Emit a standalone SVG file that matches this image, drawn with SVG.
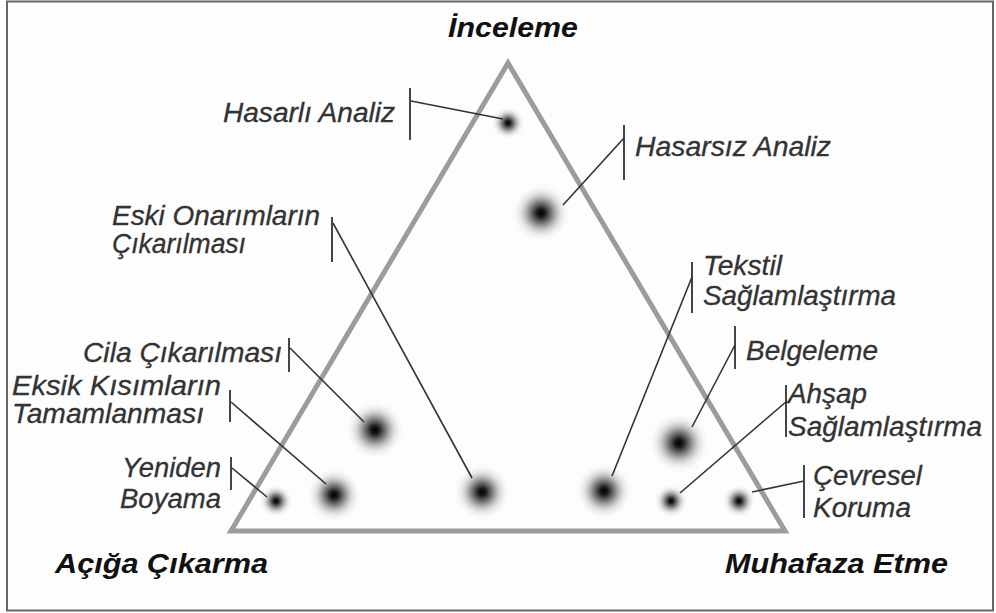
<svg xmlns="http://www.w3.org/2000/svg" width="996" height="613" viewBox="0 0 996 613">
<defs>
<radialGradient id="blob">
<stop offset="0" stop-color="#000" stop-opacity="1"/>
<stop offset="0.14" stop-color="#111" stop-opacity="0.95"/>
<stop offset="0.38" stop-color="#444" stop-opacity="0.65"/>
<stop offset="0.68" stop-color="#999" stop-opacity="0.25"/>
<stop offset="1" stop-color="#fff" stop-opacity="0"/>
</radialGradient>
<style>
.lbl{font-family:"Liberation Sans",Arial,sans-serif;font-style:italic;font-size:27px;fill:#333;stroke:#333;stroke-width:0.3}
.ttl{font-family:"Liberation Sans",Arial,sans-serif;font-style:italic;font-weight:bold;font-size:27px;fill:#111}
.tri{fill:none;stroke:#9c9c9c;stroke-width:5;stroke-linejoin:miter}
.brk{stroke:#444;stroke-width:2;fill:none}
.lead{stroke:#333;stroke-width:1.6;fill:none}
.big{fill:url(#blob)}
</style>
</defs>
<rect x="0" y="0" width="996" height="613" fill="#fdfdfd"/>
<rect x="7" y="1.5" width="986" height="609" fill="#fdfdfd" stroke="#666" stroke-width="2"/>
<polygon class="tri" points="508,63 231,531 785,531"/>

<g id="corner-inceleme"><text class="ttl" x="448" y="37" textLength="130" lengthAdjust="spacingAndGlyphs">İnceleme</text></g>
<g id="corner-aciga"><text class="ttl" x="55" y="573" textLength="213" lengthAdjust="spacingAndGlyphs">Açığa Çıkarma</text></g>
<g id="corner-muhafaza"><text class="ttl" x="725" y="573" textLength="223" lengthAdjust="spacingAndGlyphs">Muhafaza Etme</text></g>

<g id="hasarli-analiz">
<circle class="big" cx="508" cy="123" r="17"/>
<line class="brk" x1="410" y1="88" x2="410" y2="140"/>
<text class="lbl" x="223" y="122" textLength="172" lengthAdjust="spacingAndGlyphs">Hasarlı Analiz</text>
</g>
<g id="hasarsiz-analiz">
<circle class="big" cx="541" cy="213" r="30"/>
<line class="brk" x1="624" y1="125" x2="624" y2="180"/>
<text class="lbl" x="635" y="156" textLength="196" lengthAdjust="spacingAndGlyphs">Hasarsız Analiz</text>
</g>
<g id="eski-onarimlar">
<circle class="big" cx="482" cy="492" r="29"/>
<line class="brk" x1="332" y1="217" x2="332" y2="262"/>
<text class="lbl" x="112" y="225" textLength="208" lengthAdjust="spacingAndGlyphs">Eski Onarımların</text>
<text class="lbl" x="112" y="253" textLength="134" lengthAdjust="spacingAndGlyphs">Çıkarılması</text>
</g>
<g id="cila">
<circle class="big" cx="375" cy="430" r="30"/>
<line class="brk" x1="289" y1="338" x2="289" y2="372"/>
<text class="lbl" x="83" y="362" textLength="199" lengthAdjust="spacingAndGlyphs">Cila Çıkarılması</text>
</g>
<g id="eksik-kisimlar">
<circle class="big" cx="334" cy="495" r="28"/>
<line class="brk" x1="230" y1="390" x2="230" y2="422"/>
<text class="lbl" x="12" y="395" textLength="209" lengthAdjust="spacingAndGlyphs">Eksik Kısımların</text>
<text class="lbl" x="12" y="423" textLength="192" lengthAdjust="spacingAndGlyphs">Tamamlanması</text>
</g>
<g id="yeniden-boyama">
<circle class="big" cx="276" cy="501" r="17"/>
<line class="brk" x1="231" y1="457" x2="231" y2="490"/>
<text class="lbl" x="122" y="477" textLength="99" lengthAdjust="spacingAndGlyphs">Yeniden</text>
<text class="lbl" x="120" y="508" textLength="101" lengthAdjust="spacingAndGlyphs">Boyama</text>
</g>
<g id="tekstil">
<circle class="big" cx="604" cy="491" r="29"/>
<line class="brk" x1="692" y1="262" x2="692" y2="313"/>
<text class="lbl" x="703" y="275" textLength="79" lengthAdjust="spacingAndGlyphs">Tekstil</text>
<text class="lbl" x="703" y="305" textLength="193" lengthAdjust="spacingAndGlyphs">Sağlamlaştırma</text>
</g>
<g id="belgeleme">
<circle class="big" cx="679" cy="443" r="31"/>
<line class="brk" x1="735" y1="326" x2="735" y2="369"/>
<text class="lbl" x="746" y="360" textLength="132" lengthAdjust="spacingAndGlyphs">Belgeleme</text>
</g>
<g id="ahsap">
<circle class="big" cx="671" cy="501" r="17"/>
<line class="brk" x1="786" y1="385" x2="786" y2="437"/>
<text class="lbl" x="788" y="403" textLength="79" lengthAdjust="spacingAndGlyphs">Ahşap</text>
<text class="lbl" x="788" y="436" textLength="194" lengthAdjust="spacingAndGlyphs">Sağlamlaştırma</text>
</g>
<g id="cevresel">
<circle class="big" cx="739" cy="501" r="17"/>
<line class="brk" x1="804" y1="465" x2="804" y2="518"/>
<text class="lbl" x="813" y="485" textLength="109" lengthAdjust="spacingAndGlyphs">Çevresel</text>
<text class="lbl" x="813" y="517" textLength="98" lengthAdjust="spacingAndGlyphs">Koruma</text>
</g>

<g id="connectors">
<line class="lead" x1="411" y1="101" x2="503" y2="119"/>
<line class="lead" x1="624" y1="138" x2="563" y2="205"/>
<line class="lead" x1="333" y1="223" x2="472" y2="478"/>
<line class="lead" x1="290" y1="348" x2="364" y2="422"/>
<line class="lead" x1="231" y1="402" x2="326" y2="484"/>
<line class="lead" x1="232" y1="468" x2="267" y2="497"/>
<line class="lead" x1="692" y1="277" x2="612" y2="476"/>
<line class="lead" x1="735" y1="345" x2="692" y2="427"/>
<line class="lead" x1="787" y1="401" x2="680" y2="493"/>
<line class="lead" x1="804" y1="481" x2="752" y2="492"/>
</g>
</svg>
